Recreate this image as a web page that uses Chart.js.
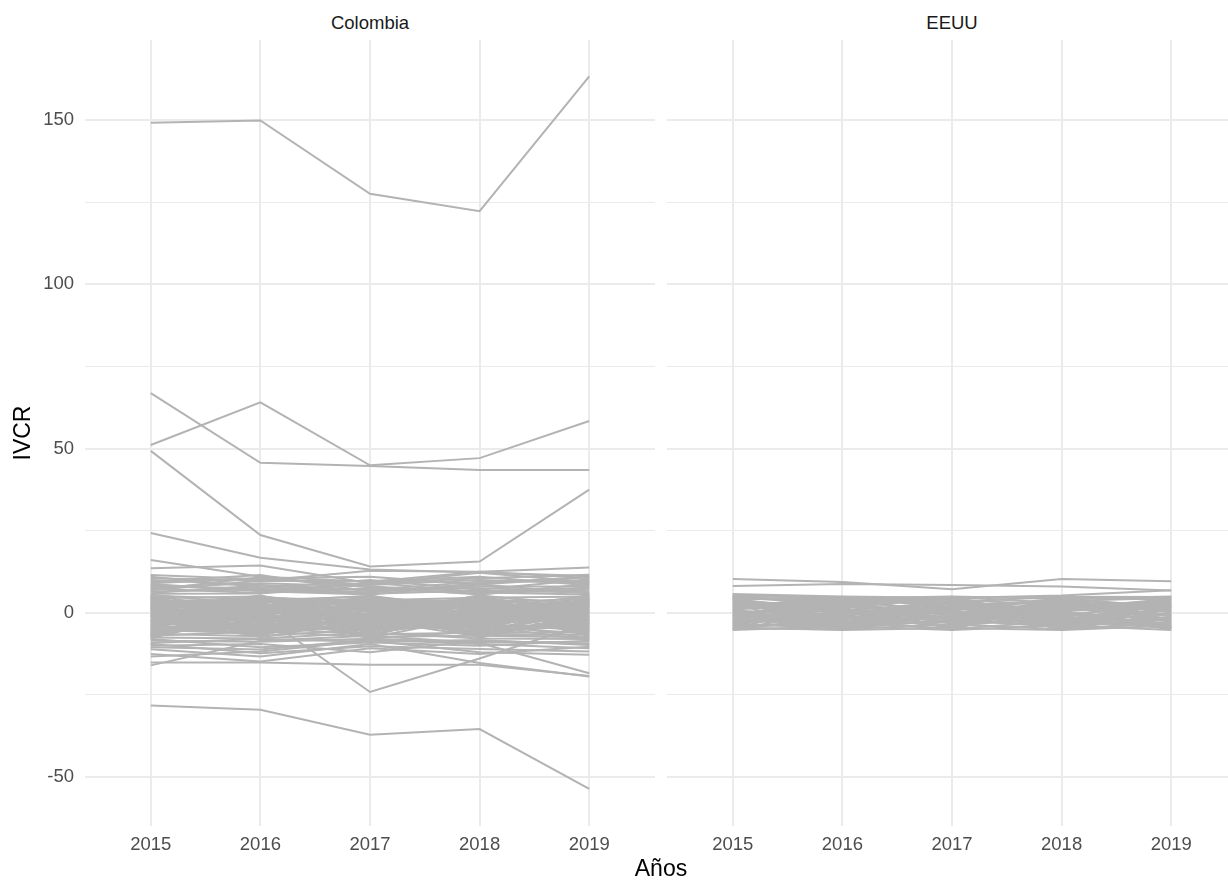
<!DOCTYPE html>
<html>
<head>
<meta charset="utf-8">
<script src="https://cdn.jsdelivr.net/npm/chart.js@4.4.1/dist/chart.umd.min.js"></script>
<style>
    html, body { margin: 0; padding: 0; background: #fff; overflow: hidden; }
    body { width: 1228px; height: 880px; position: relative; font-family: "Liberation Sans", Arial, sans-serif; }
    canvas { position: absolute; top: 0; }
    .txt { position: absolute; text-align: center; white-space: nowrap; }
    .strip { top: 12px; width: 570px; font-size: 18.5px; line-height: 22px; color: #1A1A1A; }
</style>
</head>
<body>
<div class="txt strip" style="left:85px">Colombia</div>
<div class="txt strip" style="left:667px">EEUU</div>
<canvas id="graficaCol" width="660" height="880" style="left:0"></canvas>
<canvas id="graficaUsa" width="577" height="880" style="left:660px"></canvas>
<div class="txt" style="left:561px; width:200px; top:855px; font-size:23px; line-height:27px; color:#000">Años</div>

<script>
// Años del eje x
const anios = [2015, 2016, 2017, 2018, 2019];

// Marcas del eje y (mayores con etiqueta, menores solo grilla)
const yMayores = [-50, 0, 50, 100, 150];
const yMenores = [-25, 25, 75, 125];

// Colombia: lineas que se salen del grueso
const colombiaExtremos = [
    [149.2, 149.9, 127.6, 122.3, 163.3],
    [66.9, 45.7, 44.7, 43.5, 43.5],
    [51.1, 64.1, 44.9, 47.1, 58.4],
    [49.3, 23.7, 14.1, 15.6, 37.5],
    [24.3, 16.8, 13.2, 12.3, 11.2],
    [-28.2, -29.5, -37.1, -35.4, -53.6],
    [-6.5, -0.5, -24.1, -13.9, -3.0],
    [-15.1, -15.1, -15.8, -15.8, -19.2],
    [-16.0, -8.5, -7.0, -9.2, -18.4],
    [-11.1, -13.3, -9.5, -15.3, -19.4],
    [16.1, 11.0, 9.5, 12.5, 13.8],
    [13.6, 14.4, 9.0, 10.5, 11.6],
    [-13.3, -11.8, -8.5, -12.0, -12.8],
    [-9.5, -12.3, -10.2, -11.0, -11.8],
    [10.5, 9.8, 12.8, 12.5, 10.6],
    [11.5, 10.2, 8.5, 10.0, 9.0],
    [-12.5, -14.8, -10.8, -12.5, -10.3],
    [9.5, 11.5, 6.5, 8.0, 8.0],
    [8.0, 7.5, 10.0, 7.0, 10.2],
    [-10.0, -9.5, -12.0, -8.5, -9.5]
];

// Colombia: bordes del grueso (5 a 12 y -8 a -13)
const colombiaBorde = [
    [6.5, 7.2, 5.8, 6.8, 6.2],
    [7.3, 6.0, 7.5, 5.8, 7.2],
    [6.0, 8.3, 6.8, 7.5, 6.6],
    [8.8, 6.6, 5.6, 8.6, 5.9],
    [-8.5, -8.8, -7.9, -9.0, -8.8],
    [-9.2, -8.0, -8.8, -8.3, -9.8],
    [7.8, 9.0, 8.0, 6.4, 7.6],
    [10.0, 8.5, 7.0, 9.5, 9.8],
    [9.0, 10.5, 11.0, 8.6, 10.8],
    [6.9, 9.8, 9.6, 11.0, 8.4],
    [11.0, 7.8, 6.2, 9.0, 11.0],
    [8.4, 6.8, 8.8, 12.2, 9.4],
    [-8.0, -10.5, -9.0, -10.0, -8.5],
    [-10.5, -11.2, -8.2, -9.5, -10.8],
    [5.8, 5.9, 9.2, 6.2, 5.6],
    [7.0, 10.8, 7.8, 5.6, 8.8]
];

// Colombia: banda densa entre -8 y 5
const colombiaBanda = [
    [5.2, 4.1, 3.8, 4.6, 5.0],
    [4.5, 5.0, 2.1, 3.3, 4.2],
    [3.9, 1.2, 4.8, 2.0, 3.1],
    [3.2, 3.6, 0.5, 5.1, 2.4],
    [2.6, -0.8, 3.0, 1.1, 5.3],
    [2.0, 2.7, -1.6, 3.9, 1.5],
    [1.4, 4.4, 1.9, -0.7, 0.6],
    [0.8, -2.5, 2.6, 0.2, 3.6],
    [0.2, 1.8, -3.2, 2.8, -0.4],
    [-0.4, 0.3, 4.2, -2.1, 1.9],
    [-1.0, -4.1, 0.9, -1.4, -1.3],
    [-1.6, 2.2, -2.4, -3.6, 2.7],
    [-2.2, -1.5, -4.5, 1.6, -2.2],
    [-2.8, -5.3, -0.9, -4.8, -3.1],
    [-3.4, -2.9, 1.4, -2.9, 0.1],
    [-4.0, 0.9, -5.6, -0.2, -4.2],
    [-4.6, -3.8, -2.0, -5.5, -1.8],
    [-5.2, -6.2, -3.7, -3.3, -5.4],
    [-5.8, -4.6, -6.5, -6.1, -3.7],
    [-6.4, -7.1, -4.9, -4.2, -6.3],
    [-7.0, -5.7, -7.3, -7.0, -7.4],
    [-7.5, -7.8, -6.0, -7.8, -8.0],
    [4.8, -1.2, -0.3, 4.0, -1.0],
    [1.1, 3.1, -5.0, 0.7, -5.0],
    [-3.0, 4.7, 3.5, -4.5, 4.5],
    [-5.5, -2.0, 2.4, -6.6, 2.0],
    [2.3, -6.6, 0.0, 2.4, -6.0],
    [-1.3, 0.0, -7.6, -1.0, 0.9],
    [3.6, -3.4, -2.7, -5.8, -2.7],
    [-6.9, 3.3, 5.2, 1.0, -7.0],
    [0.5, -4.9, 3.4, -3.8, 4.0],
    [-2.5, 5.3, -1.1, 5.4, -4.8],
    [5.5, 2.5, -4.0, -1.6, 1.2],
    [-4.3, -0.3, 1.0, 3.4, -0.8],
    [1.7, -7.4, -2.2, -7.2, 3.3],
    [-7.8, 1.5, -6.9, 2.1, -2.6],
    [4.2, 0.6, -0.5, -2.6, 5.5],
    [-0.9, -6.0, 5.4, -4.0, -8.2],
    [2.9, 3.9, -3.5, 4.6, -3.5],
    [-3.7, -1.0, 4.6, -5.2, 2.9],
    [5.0, -3.0, 1.8, -6.2, 0.8],
    [-7.2, 2.8, -4.2, 3.8, -5.6],
    [3.0, -7.0, 4.4, 0.4, -3.2],
    [-4.8, 5.0, 0.3, -7.4, 4.8],
    [0.0, -1.8, -7.0, 4.9, -0.1],
    [4.0, 1.0, -1.3, -3.0, -7.6],
    [-6.0, -3.6, 3.9, -0.6, 3.8],
    [2.4, 4.6, -5.9, 1.9, -1.6],
    [-2.0, -7.2, 2.8, -5.6, 1.0],
    [1.0, 0.5, -3.0, 3.0, -4.4],
    [-5.0, 3.8, 5.0, -2.3, -2.0],
    [3.4, -5.6, -1.8, 5.3, 2.2],
    [-0.6, 2.0, -6.2, -1.8, 5.2],
    [-7.6, -0.4, 1.6, -4.6, -3.8],
    [4.6, -4.4, 3.2, 1.4, 0.3],
    [-3.2, 1.4, -0.6, -6.8, -6.6],
    [1.8, -2.2, 4.0, 3.6, -2.4],
    [-4.4, 4.9, -4.8, -0.4, 3.4],
    [0.6, -6.4, -2.6, 2.6, -5.2],
    [-1.8, 3.4, 1.2, -3.2, 4.6],
    [5.4, -0.2, -7.0, 0.9, -0.7],
    [-6.6, 0.8, 2.0, 4.4, 1.8],
    [2.8, -3.9, 0.6, -5.0, -4.0],
    [-2.6, 2.6, -5.4, 1.8, 2.4],
    [-5.4, -5.0, 3.6, -1.2, -1.4],
    [3.7, 4.0, -2.8, -4.4, 4.2],
    [-0.2, -4.0, -0.1, 3.2, -6.8],
    [1.3, 5.3, -4.4, -2.6, 0.5],
    [-3.9, -6.8, 2.2, 0.0, 3.2],
    [4.4, -1.4, -3.6, 4.2, -3.4],
    [-6.2, 1.9, 4.6, -3.9, -0.3],
    [2.1, -2.8, -6.4, -1.1, 2.6],
    [-1.1, 4.2, 0.4, -6.2, -5.8],
    [-4.9, -1.2, -1.0, 2.2, 1.4],
    [3.1, -5.9, 3.0, -2.4, -2.9],
    [-7.3, 2.4, -3.9, 0.8, 4.0],
    [0.9, -0.9, 4.9, -7.6, -1.0],
    [-2.4, 3.0, -2.0, 3.9, -7.2],
    [4.9, -2.0, 1.5, -0.9, 1.6],
    [-5.7, -4.3, -5.2, 4.7, -2.3],
    [2.0, 1.6, -0.4, -3.4, 3.9],
    [-0.4, -7.0, 2.6, 1.3, -4.6],
    [-3.5, 0.2, -7.8, -5.6, 0.0],
    [1.5, 3.7, 3.6, 2.7, -5.4],
    [-6.7, -2.4, -1.5, -1.4, 2.8]
];

// EEUU: lineas de arriba
const eeuuArriba = [
    [10.3, 9.4, 7.2, 10.3, 9.6],
    [8.2, 8.8, 8.5, 8.0, 6.8],
    [4.4, 4.2, 4.5, 5.3, 6.9]
];

// EEUU: banda densa entre -5 y 5.5
const eeuuBanda = [
    [5.7, 5.0, 4.6, 4.9, 4.8],
    [5.3, 4.4, 5.0, 4.2, 5.0],
    [4.8, 3.5, 3.2, 5.0, 3.9],
    [4.1, 4.8, 2.4, 3.6, 4.5],
    [3.5, 2.1, 4.1, 2.2, 2.8],
    [2.8, 3.2, 1.0, 4.4, 1.7],
    [2.1, 0.6, 3.3, 0.9, 3.4],
    [1.4, 2.6, -0.3, 2.8, 0.4],
    [0.7, -0.8, 1.9, -0.6, 2.3],
    [0.0, 1.3, -1.7, 1.5, -0.9],
    [-0.7, -2.1, 0.5, -1.9, 1.1],
    [-1.4, 0.0, -2.9, 0.2, -2.2],
    [-2.1, -3.4, -0.9, -3.1, -0.2],
    [-2.8, -1.3, -4.0, -1.2, -3.4],
    [-3.5, -4.6, -2.2, -4.3, -1.5],
    [-4.2, -2.7, -4.9, -2.5, -4.5],
    [-4.8, -5.0, -3.5, -5.0, -2.9],
    [-5.2, -4.0, -5.2, -3.8, -5.2],
    [-4.5, -5.2, -4.6, -5.2, -3.9],
    [3.0, -3.0, 2.9, -2.8, 4.0],
    [-1.0, 4.0, -2.4, 3.9, -4.0],
    [1.0, -4.3, 3.9, -0.3, -1.6],
    [-3.2, 1.9, 0.2, -4.6, 2.0],
    [4.5, -1.8, -3.8, 2.5, -0.5],
    [-2.4, 3.0, 4.9, -2.2, 0.9],
    [5.5, 1.5, -4.4, 4.7, -2.6],
    [-5.0, 3.8, 4.2, -4.0, 3.1],
    [2.5, -4.8, 0.8, 4.0, -4.7],
    [-3.9, 4.6, -0.5, -1.5, 4.6],
    [0.4, -2.4, -5.1, 3.2, 1.4],
    [4.3, 0.3, 2.0, -5.1, -3.1],
    [-2.6, -0.4, 3.6, 0.6, -4.9],
    [1.8, 4.9, -1.2, -3.5, 0.0],
    [-4.9, -1.6, 1.5, 1.9, 3.7],
    [3.8, -3.6, -2.6, -0.9, 2.5],
    [-0.3, 2.9, 4.4, -4.8, -1.2],
    [5.0, -5.1, 0.1, 1.2, 4.3],
    [-1.8, 1.0, -4.3, 4.8, -2.9],
    [0.9, 3.4, -3.1, -2.0, -4.2],
    [-4.6, -2.3, 4.8, 3.0, 0.7],
    [2.2, -1.1, -1.9, -4.1, 1.8],
    [-3.3, 4.3, 2.6, 0.0, -3.6],
    [4.9, -4.1, -0.8, 2.0, -1.9],
    [-0.8, -3.3, 3.0, -3.3, 4.9],
    [3.3, 2.4, -4.8, 3.7, 0.2],
    [-2.0, -4.5, 1.2, -0.3, -4.4],
    [1.2, 4.5, 4.0, -1.7, -2.5],
    [-5.1, 0.8, -1.4, 4.1, 1.6],
    [4.0, -2.0, 3.8, -4.4, 3.5],
    [-1.5, 3.6, -3.4, 1.7, -0.6],
    [2.6, -0.1, 0.7, -2.8, -3.8],
    [-4.0, 2.3, -0.1, 2.9, 2.6],
    [0.3, -4.7, 2.2, -1.0, -5.0],
    [5.4, 4.7, 1.6, 0.5, 2.1],
    [-2.9, -0.6, -4.5, 4.5, 0.6],
    [1.6, 1.7, 4.7, -3.7, 4.4],
    [-3.6, -3.8, -2.8, 2.3, -1.0],
    [3.7, 0.5, -0.2, -0.1, -4.6],
    [-0.5, -5.0, 3.4, -2.4, 3.0],
    [4.6, 3.0, -2.0, 3.4, -2.0]
];

const fuente = '"Liberation Sans", Arial, sans-serif';
const gris = '#B3B3B3';
const grilla = '#EBEBEB';

function armarDatasets(series) {
    return series.map(valores => ({
        data: valores.map((v, i) => ({ x: anios[i], y: v })),
        borderColor: gris,
        borderWidth: 2,
        pointRadius: 0,
        fill: false,
        tension: 0
    }));
}

function escalas(conEtiquetas) {
    return {
        x: {
            type: 'linear',
            min: 2014.4,
            max: 2019.6,
            afterBuildTicks: s => { s.ticks = anios.map(v => ({ value: v })); },
            afterFit: s => { s.height = 54; },
            ticks: {
                color: '#4D4D4D',
                font: { family: fuente, size: 18.5 },
                padding: 8,
                maxRotation: 0,
                callback: v => String(v)
            },
            grid: { color: grilla, lineWidth: 2, drawTicks: false },
            border: { display: false }
        },
        y: {
            type: 'linear',
            min: -64.9,
            max: 174.4,
            afterBuildTicks: s => {
                s.ticks = yMayores.concat(yMenores).sort((a, b) => a - b).map(v => ({ value: v }));
            },
            afterFit: s => { s.width = conEtiquetas ? 85 : 7; },
            ticks: {
                display: conEtiquetas,
                color: '#4D4D4D',
                font: { family: fuente, size: 18.5 },
                padding: 11,
                callback: v => yMayores.includes(v) ? String(v) : ''
            },
            grid: {
                color: grilla,
                drawTicks: false,
                lineWidth: ctx => (ctx.tick && yMayores.includes(ctx.tick.value)) ? 2 : 1
            },
            border: { display: false },
            title: {
                display: conEtiquetas,
                text: 'IVCR',
                color: '#000',
                font: { family: fuente, size: 23 },
                padding: { top: 10, bottom: 0 }
            }
        }
    };
}

function AddGraph(id, series, conEtiquetas, padDerecha) {
    return new Chart(document.getElementById(id), {
        type: 'line',
        data: { datasets: armarDatasets(series) },
        options: {
            responsive: false,
            animation: false,
            layout: { padding: { top: 40, right: padDerecha, bottom: 0, left: 0 } },
            plugins: { legend: { display: false }, tooltip: { enabled: false } },
            scales: escalas(conEtiquetas)
        }
    });
}

AddGraph('graficaCol', colombiaBanda.concat(colombiaBorde, colombiaExtremos), true, 5);
AddGraph('graficaUsa', eeuuBanda.concat(eeuuArriba), false, 0);
</script>
</body>
</html>
